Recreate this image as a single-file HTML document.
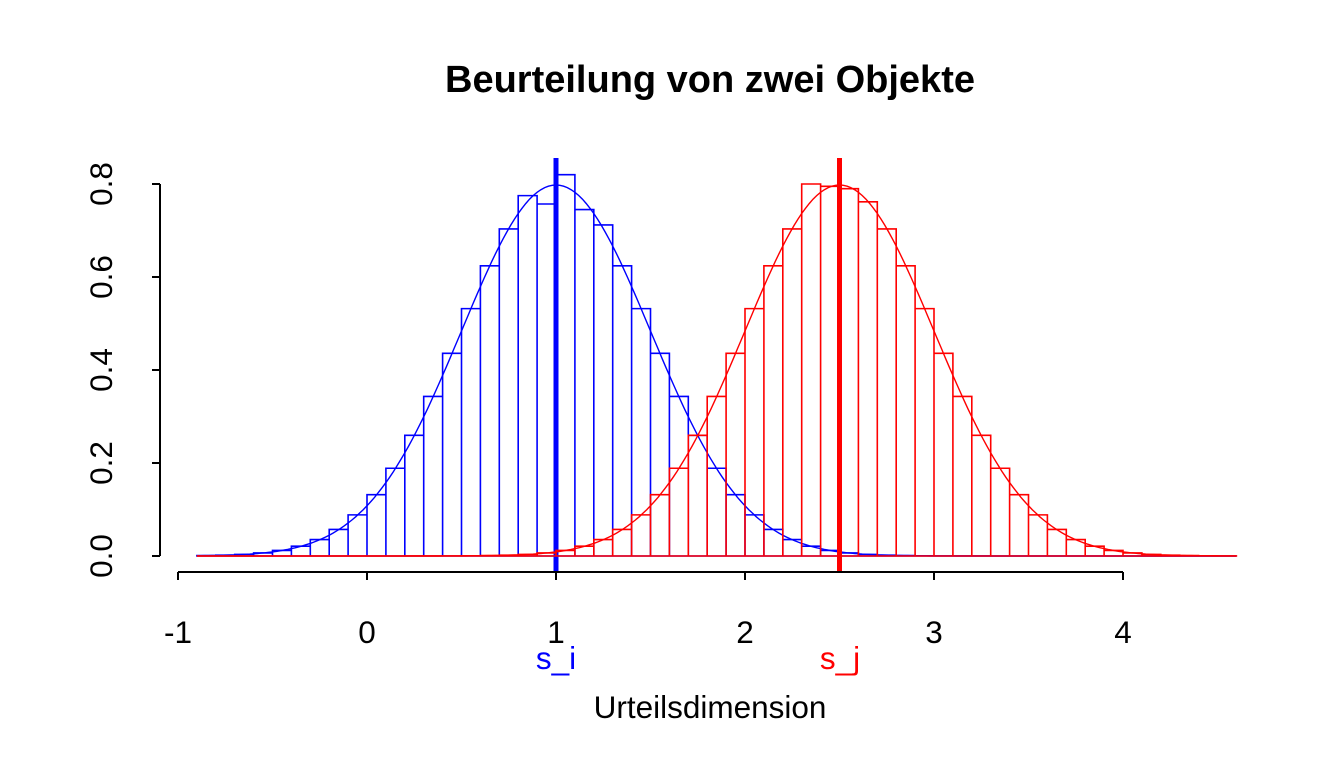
<!DOCTYPE html>
<html><head><meta charset="utf-8"><style>
body{margin:0;background:#fff}
svg{display:block}
text{font-family:"Liberation Sans",Arial,sans-serif}
</style></head><body>
<svg id="s" width="1344" height="768" xmlns="http://www.w3.org/2000/svg">
<text x="710" y="92" font-size="38" font-weight="bold" text-anchor="middle">Beurteilung von zwei Objekte</text>
<g id="g"></g>
<g stroke="#000" stroke-width="2" fill="none">
<line x1="178" y1="572" x2="1123" y2="572"/>
<line x1="178" y1="572" x2="178" y2="580"/><line x1="367" y1="572" x2="367" y2="580"/>
<line x1="556" y1="572" x2="556" y2="580"/><line x1="745" y1="572" x2="745" y2="580"/>
<line x1="934" y1="572" x2="934" y2="580"/><line x1="1123" y1="572" x2="1123" y2="580"/>
<line x1="160" y1="556" x2="160" y2="184"/>
<line x1="160" y1="556" x2="152" y2="556"/><line x1="160" y1="463" x2="152" y2="463"/>
<line x1="160" y1="370" x2="152" y2="370"/><line x1="160" y1="277" x2="152" y2="277"/>
<line x1="160" y1="184" x2="152" y2="184"/>
</g>
<g font-size="31.5" text-anchor="middle">
<text x="178" y="643">-1</text><text x="367" y="643">0</text><text x="556" y="643">1</text>
<text x="745" y="643">2</text><text x="934" y="643">3</text><text x="1123" y="643">4</text>
<text transform="translate(112,556) rotate(-90)">0.0</text>
<text transform="translate(112,463) rotate(-90)">0.2</text>
<text transform="translate(112,370) rotate(-90)">0.4</text>
<text transform="translate(112,277) rotate(-90)">0.6</text>
<text transform="translate(112,184) rotate(-90)">0.8</text>
<text x="556" y="669" fill="#0000ff">s_i</text>
<text x="840" y="669" fill="#ff0000">s_j</text>
<text x="710" y="718">Urteilsdimension</text>
</g>
</svg>
<script>
(function(){
var g=document.getElementById('g'),ns='http://www.w3.org/2000/svg';
function X(v){return 367+189*v}function Y(v){return 556-465*v}
function pdf(x,m){return Math.exp(-Math.pow((x-m)/0.5,2)/2)/(0.5*Math.sqrt(2*Math.PI))}
function el(n,a){var e=document.createElementNS(ns,n);for(var k in a)e.setAttribute(k,a[k]);g.appendChild(e);}
function hist(m,c,dev){
  var d='';
  for(var i=0;i<55;i++){var a=-0.9+i*0.1,b=a+0.1,h=0;
    for(var j=0;j<10;j++)h+=pdf(a+0.005+j*0.01,m)/10;
    if(dev[i]!==undefined)h=dev[i];
    d+='M'+X(a)+' '+Y(0)+'V'+Y(h)+'H'+X(b)+'V'+Y(0)+'Z';}
  el('path',{d:d,fill:'none',stroke:c,'stroke-width':1.6});
  var p='';for(var x=-0.9;x<=4.6;x+=0.02)p+=(p?'L':'M')+X(x).toFixed(1)+' '+Y(pdf(x,m)).toFixed(1);
  el('path',{d:p,fill:'none',stroke:c,'stroke-width':1.4});
  el('line',{x1:X(m),y1:158,x2:X(m),y2:572,stroke:c,'stroke-width':5});
}
hist(1,'#0000ff',{17:0.775,18:0.757,19:0.82,20:0.745,21:0.712});
hist(2.5,'#ff0000',{32:0.8,33:0.795,34:0.79});
})();
</script>
</body></html>
